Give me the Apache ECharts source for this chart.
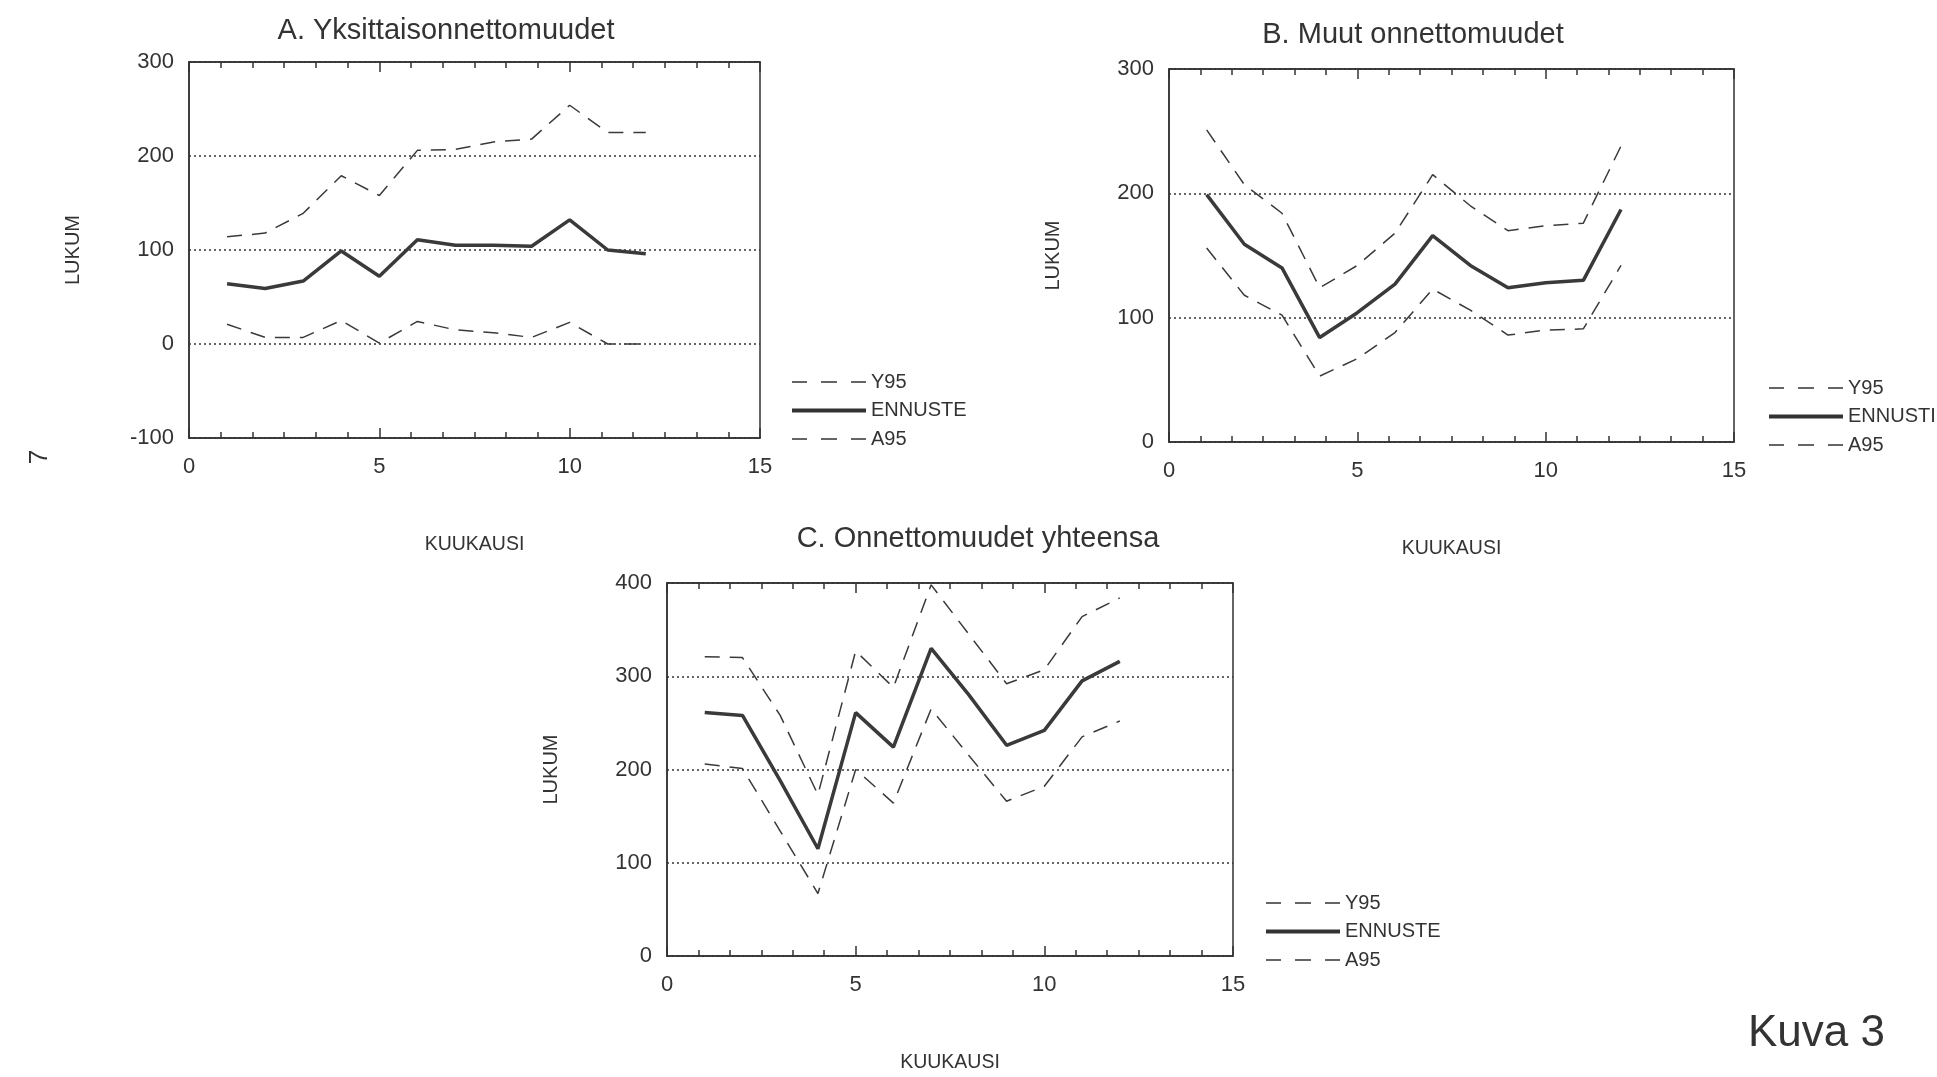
<!DOCTYPE html>
<html style="height: 100%">
<head>
    <title>Kuva 3</title>
    <meta charset="utf-8">
</head>
<body style="height: 100%; margin: 0; background: #fff">
<div id="container" style="width: 1937px; height: 1077px"></div>
<script src="https://cdn.jsdelivr.net/npm/echarts@6/dist/echarts.min.js"></script>
<script type="text/javascript">
    // kuukaudet 1..12
    var kuukausi = [1, 2, 3, 4, 5, 6, 7, 8, 9, 10, 11, 12];

    // A. Yksittaisonnettomuudet
    var aY95 = [114, 118, 139, 179, 158, 206, 207, 215, 218, 254, 225, 225];
    var aEnnuste = [64, 59, 67, 99, 72, 111, 105, 105, 104, 132, 100, 96];
    var aA95 = [21, 7, 7, 25, 1, 24, 15, 12, 7, 23, 0, 0];

    // B. Muut onnettomuudet
    var bY95 = [251, 207, 184, 124, 142, 168, 215, 190, 170, 174, 176, 238];
    var bEnnusti = [199, 159, 140, 84, 104, 127, 166, 142, 124, 128, 130, 187];
    var bA95 = [156, 118, 102, 53, 67, 88, 123, 106, 86, 90, 91, 142];

    // C. Onnettomuudet yhteensa
    var cY95 = [321, 320, 258, 173, 327, 288, 398, 345, 292, 307, 364, 384];
    var cEnnuste = [261, 258, 188, 115, 261, 224, 330, 280, 226, 242, 295, 316];
    var cA95 = [206, 201, 134, 67, 200, 164, 265, 215, 166, 182, 235, 252];

    var xTicks = [0, 5, 10, 15];

    var dom = document.getElementById("container");
    var myChart = echarts.init(dom);

    var ink = '#333';
    var font = 'Liberation Sans, Arial, sans-serif';
    var dashIcon = 'path://M0,0M74,4M0,1.2h15v1.6h-15zM29,1.2h16v1.6h-16zM59,1.2h15v1.6h-15z';
    var solidIcon = 'path://M0,0h74v4h-74z';

    function pts(vals) {
        return kuukausi.map(function (m, i) {
            return [m, vals[i]];
        });
    }

    function xAxisBottom(g) {
        return {
            type: 'value', gridIndex: g, position: 'bottom',
            min: xTicks[0], max: xTicks[xTicks.length - 1], interval: 5,
            name: 'KUUKAUSI', nameLocation: 'middle', nameGap: 97, nameMoveOverlap: false,
            nameTextStyle: {fontFamily: font, fontSize: 19.5, color: ink},
            axisLine: {show: true, onZero: false, lineStyle: {color: ink, width: 1.5}},
            axisTick: {show: true, inside: true, length: 10, lineStyle: {color: ink, width: 1.5}},
            minorTick: {show: true, splitNumber: 6, length: 6, lineStyle: {color: ink, width: 1.5}},
            axisLabel: {margin: 18, fontFamily: font, fontSize: 22, color: ink},
            splitLine: {show: false}
        };
    }

    function xAxisTop(g) {
        return {
            type: 'value', gridIndex: g, position: 'top',
            min: xTicks[0], max: xTicks[xTicks.length - 1], interval: 5,
            axisLine: {show: true, onZero: false, lineStyle: {color: ink, width: 1.5}},
            axisTick: {show: true, inside: true, length: 10, lineStyle: {color: ink, width: 1.5}},
            minorTick: {show: true, splitNumber: 6, length: 6, lineStyle: {color: ink, width: 1.5}},
            axisLabel: {show: false},
            splitLine: {show: false}
        };
    }

    function yAxis(g, min, max) {
        return {
            type: 'value', gridIndex: g, min: min, max: max, interval: 100,
            name: 'LUKUM', nameLocation: 'middle', nameGap: 106, nameMoveOverlap: false,
            nameTextStyle: {fontFamily: font, fontSize: 20, color: ink},
            axisLine: {show: true, onZero: false, lineStyle: {color: ink, width: 1.5}},
            axisTick: {show: false},
            axisLabel: {margin: 15, fontFamily: font, fontSize: 22, color: ink},
            splitLine: {show: true, lineStyle: {color: ink, width: 1.5, type: [2, 3]}}
        };
    }

    function dashed(name, vals, xi, yi) {
        return {
            name: name, type: 'line', xAxisIndex: xi, yAxisIndex: yi,
            data: pts(vals), symbol: 'none', color: ink, silent: true,
            lineStyle: {color: '#3a3a3a', width: 1.5, type: [15, 10]}
        };
    }

    function solid(name, vals, xi, yi) {
        return {
            name: name, type: 'line', xAxisIndex: xi, yAxisIndex: yi,
            data: pts(vals), symbol: 'none', color: ink, silent: true,
            lineStyle: {color: '#3a3a3a', width: 3.5}
        };
    }

    function legend(left, top, mid) {
        return {
            left: left, top: top, orient: 'vertical', selectedMode: false,
            itemWidth: 74, itemHeight: 4, itemGap: 8.5,
            textStyle: {fontFamily: font, fontSize: 20, lineHeight: 20, color: ink},
            data: [
                {name: 'Y95', icon: dashIcon},
                {name: mid, icon: solidIcon},
                {name: 'A95', icon: dashIcon}
            ]
        };
    }

    var titleStyle = {fontFamily: font, fontSize: 29, fontWeight: 'normal', color: ink};

    myChart.setOption({
        animation: false,
        backgroundColor: '#fff',
        title: [
            {text: 'A. Yksittaisonnettomuudet', left: 441, top: 11, textAlign: 'center', textStyle: titleStyle},
            {text: 'B. Muut onnettomuudet', left: 1408, top: 15, textAlign: 'center', textStyle: titleStyle},
            {text: 'C. Onnettomuudet yhteensa', left: 973, top: 519, textAlign: 'center', textStyle: titleStyle}
        ],
        grid: [
            {left: 189, top: 62, width: 571, height: 376, containLabel: false, outerBoundsMode: 'none',
                show: true, borderColor: ink, borderWidth: 1.5},
            {left: 1169, top: 69, width: 565, height: 373, containLabel: false, outerBoundsMode: 'none',
                show: true, borderColor: ink, borderWidth: 1.5},
            {left: 667, top: 583, width: 566, height: 373, containLabel: false, outerBoundsMode: 'none',
                show: true, borderColor: ink, borderWidth: 1.5}
        ],
        xAxis: [xAxisBottom(0), xAxisBottom(1), xAxisBottom(2), xAxisTop(0), xAxisTop(1), xAxisTop(2)],
        yAxis: [yAxis(0, -100, 300), yAxis(1, 0, 300), yAxis(2, 0, 400)],
        legend: [
            legend(787, 367, 'ENNUSTE'),
            legend(1764, 373, 'ENNUSTI'),
            legend(1261, 888, 'ENNUSTE')
        ],
        graphic: [
            {type: 'text', left: 1748, top: 1012,
                style: {text: 'Kuva 3', font: '44px Liberation Sans', fill: ink}},
            {type: 'text', x: 40, y: 457, rotation: Math.PI / 2,
                style: {text: '7', font: '26px Liberation Sans', fill: ink, align: 'center', verticalAlign: 'middle'}}
        ],
        series: [
            dashed('Y95', aY95, 0, 0),
            solid('ENNUSTE', aEnnuste, 0, 0),
            dashed('A95', aA95, 0, 0),
            dashed('Y95', bY95, 1, 1),
            solid('ENNUSTI', bEnnusti, 1, 1),
            dashed('A95', bA95, 1, 1),
            dashed('Y95', cY95, 2, 2),
            solid('ENNUSTE', cEnnuste, 2, 2),
            dashed('A95', cA95, 2, 2)
        ]
    });
</script>
</body>
</html>
